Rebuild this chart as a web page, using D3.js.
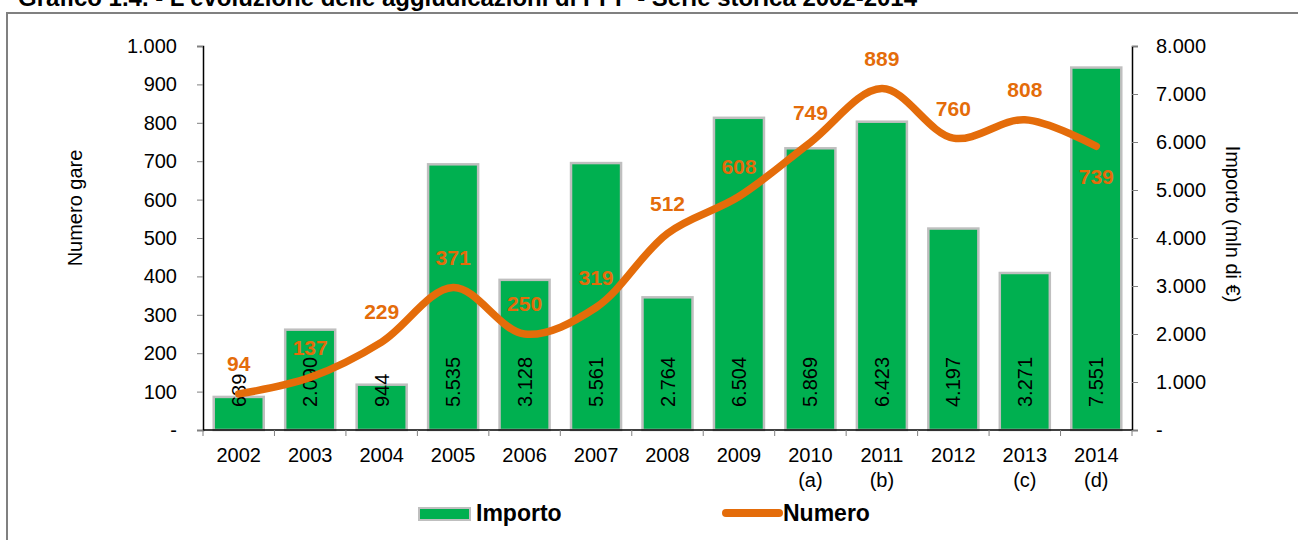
<!DOCTYPE html>
<html>
<head>
<meta charset="utf-8">
<script src="https://cdn.jsdelivr.net/npm/d3@7"></script>
<style>
  body { margin: 0; background: #fff; }
  svg { display: block; font-family: "Liberation Sans", Arial, sans-serif; }
  .tick-label { font-size: 20px; fill: #000; }
  .axis-title { font-size: 20px; fill: #000; }
  .num-label { font-size: 21px; font-weight: bold; fill: #E46C0A; }
  .legend-text { font-size: 23px; font-weight: bold; fill: #000; }
</style>
</head>
<body>
<svg id="chart" width="1298" height="540"></svg>
<script>
// Grafico 1.4 - aggiudicazioni di PPP 2002-2014
const years = ["2002","2003","2004","2005","2006","2007","2008","2009","2010","2011","2012","2013","2014"];
const notes = ["","","","","","","","","(a)","(b)","","(c)","(d)"];
const importo = [689, 2090, 944, 5535, 3128, 5561, 2764, 6504, 5869, 6423, 4197, 3271, 7551];
const numero = [94, 137, 229, 371, 250, 319, 512, 608, 749, 889, 760, 808, 739];
const leftTicks = [0, 100, 200, 300, 400, 500, 600, 700, 800, 900, 1000];
const rightTicks = [0, 1000, 2000, 3000, 4000, 5000, 6000, 7000, 8000];

const title = "Grafico 1.4. - L'evoluzione delle aggiudicazioni di PPP - Serie storica 2002-2014";

(function() {
  const svg = d3.select("#chart");
  const plot = { left: 203, right: 1132, top: 46, bottom: 430 };

  const fmt = v => v === 0 ? "-" : d3.formatLocale({decimal: ",", thousands: ".", grouping: [3]}).format(",d")(v);

  // frame + title (title is clipped at the top edge, as in the source)
  svg.append("rect")
    .attr("x", 7).attr("y", 13)
    .attr("width", 1320).attr("height", 560)
    .attr("fill", "none")
    .attr("stroke", "#808080")
    .attr("stroke-width", 2);

  svg.append("text")
    .attr("x", 18).attr("y", 6)
    .attr("font-size", 24).attr("font-weight", "bold")
    .attr("textLength", 899)
    .attr("lengthAdjust", "spacingAndGlyphs")
    .text(title);

  const x = d3.scaleBand()
    .domain(years)
    .range([plot.left, plot.right])
    .paddingInner(0.3)
    .paddingOuter(0.15);

  const yL = d3.scaleLinear().domain([0, 1000]).range([plot.bottom, plot.top]);
  const yR = d3.scaleLinear().domain([0, 8000]).range([plot.bottom, plot.top]);

  const cx = d => x(d) + x.bandwidth() / 2;

  // bars
  svg.append("g")
    .selectAll("rect")
    .data(importo)
    .join("rect")
    .attr("x", (d, i) => x(years[i]))
    .attr("y", d => yR(d))
    .attr("width", x.bandwidth())
    .attr("height", d => yR(0) - yR(d))
    .attr("fill", "#00B050")
    .attr("stroke", "#BFBFBF")
    .attr("stroke-width", 2.5);

  // bar values, rotated
  svg.append("g")
    .selectAll("text")
    .data(importo)
    .join("text")
    .attr("class", "tick-label")
    .attr("transform", (d, i) => `translate(${cx(years[i])},407) rotate(-90)`)
    .attr("dy", "0.35em")
    .attr("text-anchor", "start")
    .text(d => fmt(d));

  // left axis
  const axL = svg.append("g")
    .attr("transform", `translate(${plot.left},0)`)
    .call(d3.axisLeft(yL).tickValues(leftTicks).tickSize(6).tickPadding(20).tickFormat(fmt));
  axL.select(".domain").attr("stroke", "#000").attr("stroke-width", 1.5);
  axL.selectAll(".tick line").attr("stroke", "#808080");
  axL.selectAll(".tick text").attr("class", "tick-label").attr("font-size", null).attr("font-family", null);

  // right axis
  const axR = svg.append("g")
    .attr("transform", `translate(${plot.right},0)`)
    .call(d3.axisRight(yR).tickValues(rightTicks).tickSize(6).tickPadding(18).tickFormat(fmt));
  axR.select(".domain").attr("stroke", "#000").attr("stroke-width", 1.5);
  axR.selectAll(".tick line").attr("stroke", "#808080");
  axR.selectAll(".tick text").attr("class", "tick-label").attr("font-size", null).attr("font-family", null);

  // bottom axis: ticks at category boundaries
  const bounds = d3.range(years.length + 1).map(i => plot.left + i * (plot.right - plot.left) / years.length);
  svg.append("line")
    .attr("x1", plot.left).attr("x2", plot.right)
    .attr("y1", plot.bottom).attr("y2", plot.bottom)
    .attr("stroke", "#000").attr("stroke-width", 1.5);
  svg.append("g")
    .selectAll("line")
    .data(bounds)
    .join("line")
    .attr("x1", d => d).attr("x2", d => d)
    .attr("y1", plot.bottom).attr("y2", plot.bottom + 6)
    .attr("stroke", "#808080");

  svg.append("g")
    .selectAll("text")
    .data(years)
    .join("text")
    .attr("class", "tick-label")
    .attr("x", d => cx(d))
    .attr("y", 462)
    .attr("text-anchor", "middle")
    .text(d => d);

  svg.append("g")
    .selectAll("text")
    .data(notes)
    .join("text")
    .attr("class", "tick-label")
    .attr("x", (d, i) => cx(years[i]))
    .attr("y", 487)
    .attr("text-anchor", "middle")
    .text(d => d);

  // axis titles
  svg.append("text")
    .attr("class", "axis-title")
    .attr("transform", "translate(75,208) rotate(-90)")
    .attr("dy", "0.35em")
    .attr("text-anchor", "middle")
    .text("Numero gare");

  svg.append("text")
    .attr("class", "axis-title")
    .attr("transform", "translate(1233,224) rotate(90)")
    .attr("dy", "0.35em")
    .attr("text-anchor", "middle")
    .text("Importo (mln di €)");

  // numero line
  const line = d3.line()
    .x((d, i) => cx(years[i]))
    .y(d => yL(d))
    .curve(d3.curveCatmullRom.alpha(0.5));

  svg.append("path")
    .datum(numero)
    .attr("d", line)
    .attr("fill", "none")
    .attr("stroke", "#E46C0A")
    .attr("stroke-width", 7.5)
    .attr("stroke-linecap", "round")
    .attr("stroke-linejoin", "round");

  // numero labels: above the point, last one below
  svg.append("g")
    .selectAll("text")
    .data(numero)
    .join("text")
    .attr("class", "num-label")
    .attr("x", (d, i) => cx(years[i]))
    .attr("y", (d, i) => yL(d) + (i === numero.length - 1 ? 30 : -30))
    .attr("dy", "0.35em")
    .attr("text-anchor", "middle")
    .text(d => d);

  // legend
  const lg = svg.append("g");
  lg.append("rect")
    .attr("x", 419).attr("y", 508)
    .attr("width", 51).attr("height", 12)
    .attr("fill", "#00B050")
    .attr("stroke", "#BFBFBF")
    .attr("stroke-width", 2);
  lg.append("text")
    .attr("class", "legend-text")
    .attr("x", 476).attr("y", 521)
    .text("Importo");
  lg.append("line")
    .attr("x1", 726).attr("x2", 779)
    .attr("y1", 513).attr("y2", 513)
    .attr("stroke", "#E46C0A")
    .attr("stroke-width", 8)
    .attr("stroke-linecap", "round");
  lg.append("text")
    .attr("class", "legend-text")
    .attr("x", 783).attr("y", 521)
    .text("Numero");
})();
</script>
</body>
</html>
